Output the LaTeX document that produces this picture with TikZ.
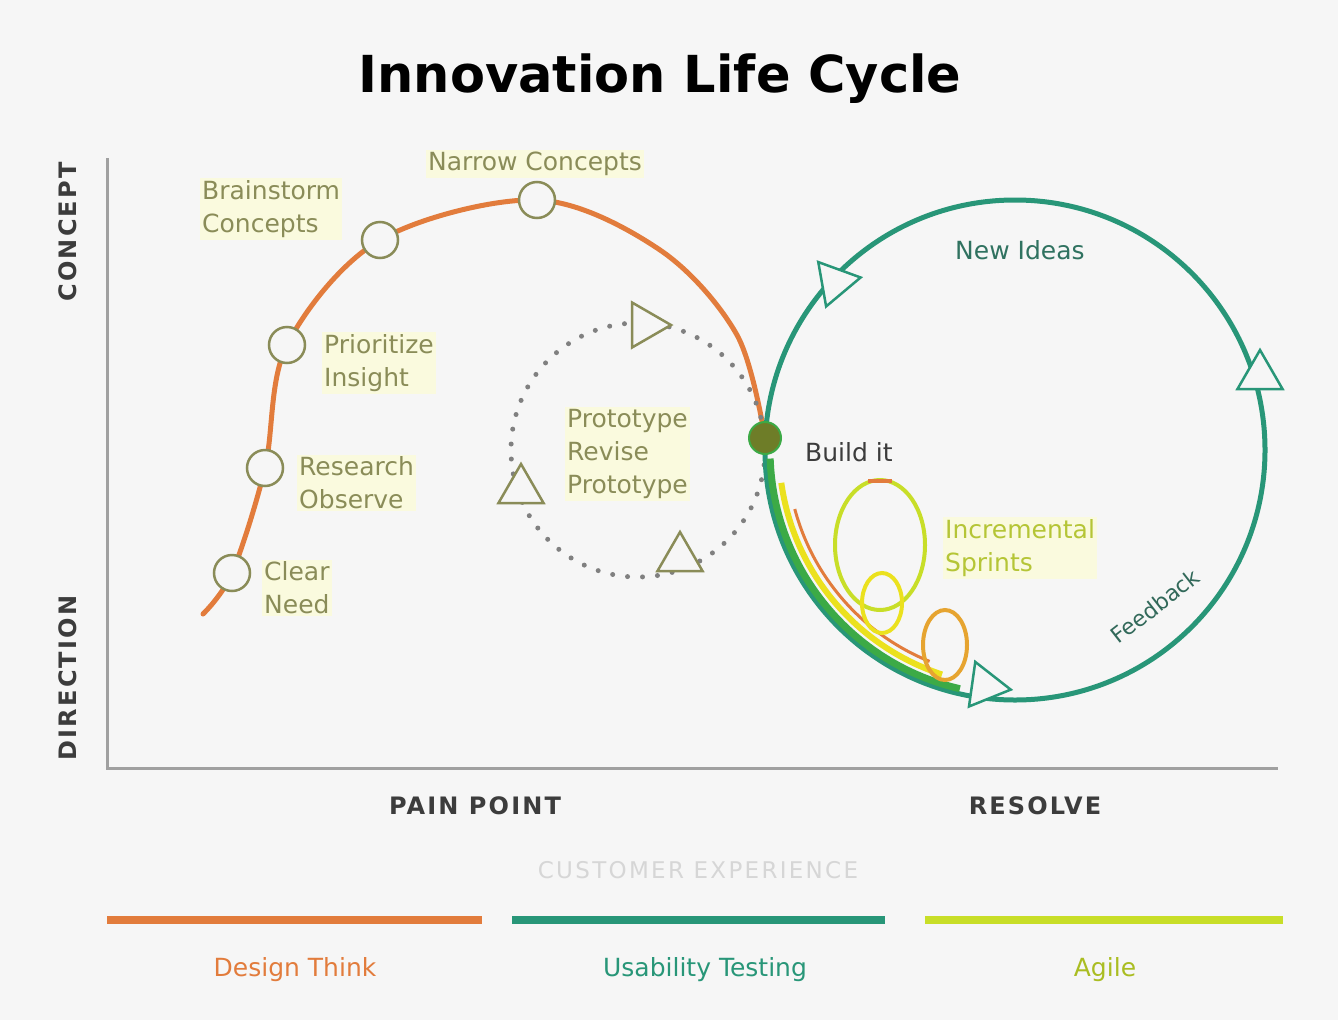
\documentclass[tikz,border=0pt]{standalone}
\usepackage{fontspec}
\setmainfont{Liberation Sans}
\newfontfamily\headfont{DejaVu Sans}
\usetikzlibrary{shapes.geometric, positioning, calc}
\definecolor{bggray}{RGB}{246,246,246}
\definecolor{designorange}{RGB}{226,124,60}
\definecolor{usabteal}{RGB}{40,150,120}
\definecolor{agilegreen}{RGB}{200,222,40}
\definecolor{trailgreen}{RGB}{60,170,70}
\definecolor{loopyellow}{RGB}{235,225,30}
\definecolor{labelolive}{RGB}{138,140,88}
\definecolor{labelfill}{RGB}{250,250,222}
\definecolor{axisgray}{RGB}{160,160,160}
\definecolor{darktext}{RGB}{60,60,60}
\definecolor{hubolive}{RGB}{110,125,40}

\begin{document}
\begin{tikzpicture}[x=1pt, y=-1pt,
    stage/.style={circle, draw=labelolive, line width=2.5pt, fill=bggray, minimum size=36pt, inner sep=0pt},
    lbl/.style={text=labelolive, fill=labelfill, align=left, inner sep=2pt, font=\headfont\fontsize{25}{33}\selectfont},
    flowtip/.style={regular polygon, regular polygon sides=3, line width=2.5pt, fill=bggray, minimum size=52pt, inner sep=0pt},
    axislbl/.style={text=darktext, font=\headfont\bfseries\fontsize{24}{28}\selectfont\addfontfeature{LetterSpace=9}},
    legendlbl/.style={font=\headfont\fontsize{25}{30}\selectfont},
    axis/.style={draw=axisgray, line width=3pt},
    designline/.style={draw=designorange, line width=5pt, line cap=round},
    usabline/.style={draw=usabteal, line width=5pt},
    protoloop/.style={draw=axisgray!80!black, line width=5pt, line cap=round, dash pattern=on 0pt off 15pt}
]
    \useasboundingbox[fill=bggray] (0,0) rectangle (1338,1020);

    \node[font=\headfont\bfseries\fontsize{51}{55}\selectfont] (title) at (660,79) {Innovation Life Cycle};

    % axes
    \coordinate (origin) at (107,768);
    \draw[axis] (107,158) -- (origin) -- (1278,768);
    \node[axislbl, rotate=90] (concept) at (68,232) {CONCEPT};
    \node[axislbl, rotate=90] (direction) at (68,678) {DIRECTION};
    \node[axislbl] (pain) at (475,806) {PAIN POINT};
    \node[axislbl] (resolve) at (1035,806) {RESOLVE};

    % design thinking arc
    \coordinate (tail) at (203,614);
    \coordinate (need) at (232,573);
    \coordinate (research) at (265,468);
    \coordinate (insight) at (287,345);
    \coordinate (brainstorm) at (380,240);
    \coordinate (narrow) at (537,200);
    \coordinate (build) at (765,438);
    \draw[designline] plot[smooth, tension=0.55] coordinates {(tail) (need) (research) (insight) (brainstorm) (narrow) (660,250) (737,335) (build)};

    % prototype loop
    \coordinate (proto) at (638,450);
    \draw[protoloop] (proto) circle[radius=127];

    % usability loop
    \coordinate (usab) at (1015,450);
    \draw[usabline] (usab) circle[radius=250];

    % agile trail along the usability loop
    \draw[draw=loopyellow, line width=6pt] (usab) ++(172:236) arc[start angle=172, end angle=108, radius=236];
    \draw[draw=designorange, line width=3pt] (usab) ++(165:228) arc[start angle=165, end angle=112, radius=228];
    \draw[draw=trailgreen, line width=7pt] (usab) ++(178:245) arc[start angle=178, end angle=103, radius=245];
    \draw[draw=agilegreen, line width=4pt] (880,545) ellipse[x radius=45, y radius=65];
    \draw[draw=designorange, line width=4pt] (868,481) -- (892,481);
    \draw[draw=loopyellow, line width=4pt] (882,603) ellipse[x radius=20, y radius=30];
    \draw[draw=designorange!60!loopyellow, line width=4pt] (945,645) ellipse[x radius=22, y radius=35];

    % milestones
    \node[stage] (needmark) at (need) {};
    \node[stage] (researchmark) at (research) {};
    \node[stage] (insightmark) at (insight) {};
    \node[stage] (brainmark) at (brainstorm) {};
    \node[stage] (narrowmark) at (narrow) {};
    \node[circle, fill=hubolive, draw=trailgreen, line width=2pt, minimum size=32pt] (hub) at (build) {};

    % direction marks
    \node[flowtip, draw=labelolive, rotate=-90] (tipa) at (645,325) {};
    \node[flowtip, draw=labelolive] (tipb) at (521,490) {};
    \node[flowtip, draw=labelolive] (tipc) at (680,558) {};
    \node[flowtip, draw=usabteal, rotate=-80] (tipd) at (835,282) {};
    \node[flowtip, draw=usabteal] (tipe) at (1260,376) {};
    \node[flowtip, draw=usabteal, rotate=-98] (tipf) at (985,686) {};

    % labels
    \node[lbl, anchor=west] (brainlbl) at (200,209) {Brainstorm\\Concepts};
    \node[lbl, anchor=west] (narrowlbl) at (426,164) {Narrow Concepts};
    \node[lbl, anchor=west] (insightlbl) at (322,363) {Prioritize\\Insight};
    \node[lbl, anchor=west] (researchlbl) at (297,483) {Research\\Observe};
    \node[lbl, anchor=west] (needlbl) at (262,588) {Clear\\Need};
    \node[lbl, anchor=west] (protolbl) at (565,454) {Prototype\\Revise\\Prototype};
    \node[lbl, anchor=west, text=darktext, fill=none] (buildlbl) at (803,452) {Build it};
    \node[lbl, anchor=west, text=usabteal!60!darktext, fill=none] (ideaslbl) at (953,250) {New Ideas};
    \node[lbl, anchor=west, text=agilegreen!70!labelolive] (sprintlbl) at (943,548) {Incremental\\Sprints};
    \node[text=usabteal!50!darktext, rotate=38, inner sep=0pt, font=\headfont\fontsize{22}{24}\selectfont] (feedbacklbl) at (1155,606) {Feedback};

    % legend
    \node[text=black!16, font=\headfont\fontsize{23}{26}\selectfont\addfontfeature{LetterSpace=10}] (cx) at (698,870) {CUSTOMER EXPERIENCE};
    \draw[draw=designorange, line width=8pt] (107,920) -- (482,920);
    \draw[draw=usabteal, line width=8pt] (512,920) -- (885,920);
    \draw[draw=agilegreen, line width=8pt] (925,920) -- (1283,920);
    \node[legendlbl, text=designorange] (designlbl) at (295,970) {Design Think};
    \node[legendlbl, text=usabteal] (usablbl) at (705,970) {Usability Testing};
    \node[legendlbl, text=agilegreen!85!black] (agilelbl) at (1105,970) {Agile};
\end{tikzpicture}
\end{document}
